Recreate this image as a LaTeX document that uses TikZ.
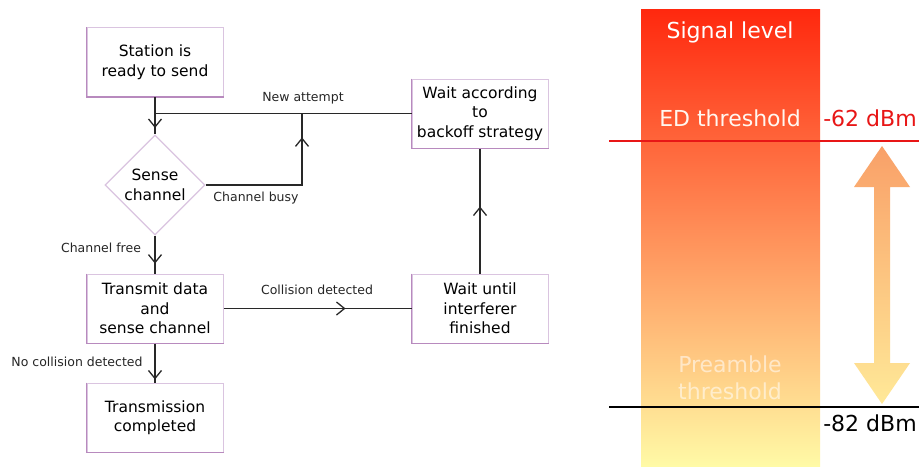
\documentclass[tikz,border=0pt]{standalone}
\usepackage{fontspec}
\setmainfont{DejaVu Sans}
\usetikzlibrary{arrows.meta,decorations.markings,shapes.geometric}
\definecolor{boxlight}{RGB}{218,196,224}
\definecolor{boxdark}{RGB}{184,138,190}
\definecolor{lineclr}{RGB}{40,40,40}
\definecolor{edred}{RGB}{232,22,22}
\definecolor{sigtop}{RGB}{255,40,14}
\definecolor{sigmid}{RGB}{251,160,76}
\definecolor{sigbot}{RGB}{255,250,166}
\definecolor{arrtop}{RGB}{249,160,104}
\definecolor{arrbot}{RGB}{255,233,152}
\begin{document}
\begin{tikzpicture}[x=1pt,y=-1pt,
  box/.style={draw=boxlight, line width=1pt, fill=white, minimum width=136pt, minimum height=69pt, inner sep=0pt, align=center, font=\fontsize{15.5}{19.5}\selectfont},
  dia/.style={diamond, draw=boxlight, line width=1.2pt, fill=white, minimum width=100pt, minimum height=100pt, inner sep=0pt, align=center, font=\fontsize{15.5}{19.5}\selectfont},
  conn/.style={draw=lineclr, line width=1.3pt},
  lbl/.style={font=\fontsize{12.5}{15}\selectfont, text=black!85, inner sep=0pt},
  midarrow/.style={postaction=decorate, decoration={markings, mark=at position #1 with {\arrow[lineclr,line width=1.3pt]{Straight Barb[length=8pt,width=13pt]}}}},
  big/.style={font=\fontsize{22}{27}\selectfont, inner sep=0pt, align=center}
]
\useasboundingbox (0,0) rectangle (920,466);
\fill[white] (0,0) rectangle (920,466);

% flowchart nodes
\node[box] (station) at (155,62) {Station is\\ready to send};
\node[dia] (dia) at (155,185) {Sense\\channel};
\node[box] (backoff) at (480,113.5) {Wait according\\to\\backoff strategy};
\node[box] (transmit) at (155,308.5) {Transmit data\\and\\sense channel};
\node[box] (waituntil) at (480,308.5) {Wait until\\interferer\\finished};
\node[box] (transmission) at (155,417.5) {Transmission\\completed};
\foreach \n in {station,backoff,transmit,waituntil,transmission}
  \draw[boxdark, line width=1.2pt] (\n.north west) -- (\n.south west) -- (\n.south east);

\coordinate (j1) at (302,113.5);

% connectors
\draw[conn, midarrow=31pt] (station.south) -- (dia.north);
\draw[conn] (backoff.west) -- (backoff.west -| station.south);
\draw[conn, midarrow=144pt] (dia.east) -| (j1);
\draw[conn, midarrow=28pt] (dia.south) -- (transmit.north);
\draw[conn, midarrow=122pt] (transmit.east) -- (waituntil.west);
\draw[conn, midarrow=67pt] (waituntil.north) -- (backoff.south);
\draw[conn, midarrow=36pt] (transmit.south) -- (transmission.north);

% labels
\node[lbl] (lna) at (303,98) {New attempt};
\node[lbl] (lcb) at (256,198) {Channel busy};
\node[lbl] (lcf) at (101,248) {Channel free};
\node[lbl] (lcd) at (317,290) {Collision detected};
\node[lbl] (lnc) at (77,362) {No collision detected};

% signal level bar
\shade[top color=sigtop, middle color=sigmid, bottom color=sigbot] (641,9) rectangle (820,466);
\shade[top color=arrtop, bottom color=arrbot] (882,146) -- (910,187) -- (890,187) -- (890,363) -- (910,363) -- (882,404) -- (854,363) -- (874,363) -- (874,187) -- (854,187) -- cycle;
\draw[edred, line width=1.6pt] (609,141) -- (919,141);
\draw[black, line width=1.8pt] (609,407) -- (919,407);

\node[big, text=white] (sl) at (730,32) {Signal level};
\node[big, text=white!94!orange] (ed) at (730,118) {ED threshold};
\node[big, text=edred] (v62) at (870,118) {-62 dBm};
\node[big, text=white, opacity=0.55] (pt) at (730,378) {Preamble\\threshold};
\node[big, text=black] (v82) at (870,423) {-82 dBm};
\end{tikzpicture}
\end{document}
